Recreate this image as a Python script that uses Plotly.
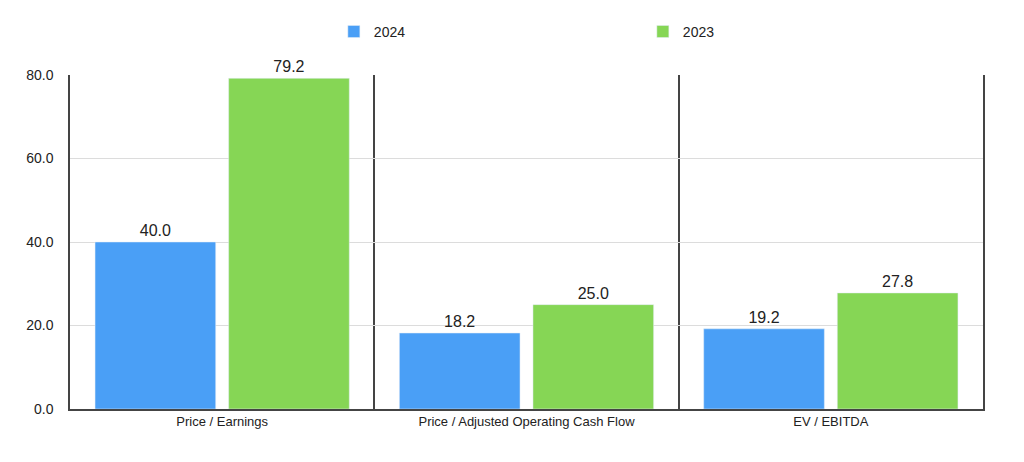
import plotly.graph_objects as go

categories = ["Price / Earnings", "Price / Adjusted Operating Cash Flow", "EV / EBITDA"]
values_2024 = [40.0, 18.2, 19.2]
values_2023 = [79.2, 25.0, 27.8]
y_ticks = [0, 20, 40, 60, 80]

font = "Liberation Sans, Arial, Helvetica, sans-serif"

fig = go.Figure()
fig.add_trace(go.Bar(name="2024", x=categories, y=values_2024, marker_color="#4a9ff6",
                     text=[f"{v:.1f}" for v in values_2024], textposition="outside",
                     textfont=dict(size=16, color="#222"), cliponaxis=False))
fig.add_trace(go.Bar(name="2023", x=categories, y=values_2023, marker_color="#86d655",
                     text=[f"{v:.1f}" for v in values_2023], textposition="outside",
                     textfont=dict(size=16, color="#222"), cliponaxis=False))

fig.update_layout(
    width=1024, height=462,
    margin=dict(l=70, r=41, t=75, b=53),
    paper_bgcolor="white", plot_bgcolor="white",
    font=dict(family=font, size=13, color="#222"),
    barmode="group", bargap=0.122, bargroupgap=0.097,
    legend=dict(orientation="h", x=0.289, xanchor="left", y=1.129, yanchor="middle",
                entrywidth=264, font=dict(size=14), traceorder="normal"),
    xaxis=dict(tickson="boundaries", showgrid=True, gridcolor="#444", gridwidth=1.5,
               showline=True, linecolor="#444", linewidth=1.5, ticks="",
               tickfont=dict(size=13)),
    yaxis=dict(range=[0, 80], tickvals=y_ticks, tickformat=".1f", showgrid=True,
               gridcolor="#dcdcdc", showline=True, mirror=True, linecolor="#444",
               linewidth=1.5, ticks="", ticklabelstandoff=12, tickfont=dict(size=14),
               zeroline=False),
)
fig.write_html("out.html")
